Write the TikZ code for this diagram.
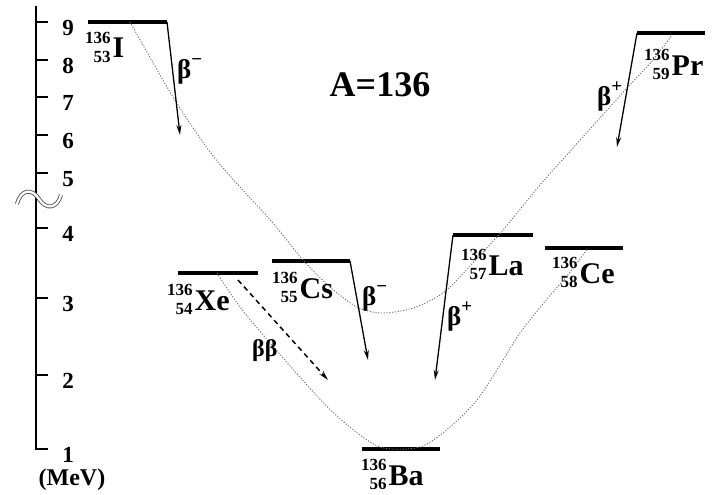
\documentclass[tikz,border=0pt]{standalone}
\usepackage{fontspec}
\setmainfont{Liberation Serif}
\usetikzlibrary{arrows.meta}
\newcommand{\nuc}[3]{\raisebox{4pt}{\fontsize{17}{19}\selectfont\begin{tabular}{@{}r@{}}#1\\#2\end{tabular}}\kern2pt#3}
\newcommand{\bsign}[1]{\raisebox{13pt}{\fontsize{19}{19}\selectfont#1}}

\begin{document}
\begin{tikzpicture}[x=1pt,y=-1pt,>={Stealth[length=10pt,width=5pt]},
  lvl/.style={line width=3.5pt},
  decay/.style={->,line width=1.3pt},
  bbdecay/.style={->,line width=1.5pt,dash pattern=on 5pt off 4pt},
  parab/.style={black!55,line width=0.9pt,dash pattern=on 1.2pt off 1.6pt},
  nucl/.style={anchor=base west,inner sep=0pt,font=\fontsize{30}{30}\selectfont\bfseries},
  blab/.style={anchor=base west,inner sep=0pt,font=\fontsize{27}{28}\selectfont\bfseries},
  axnum/.style={inner sep=0pt,font=\fontsize{23}{26}\selectfont\bfseries}]
\useasboundingbox (0,0) rectangle (715,495);

% energy axis
\draw[line width=2pt] (36,6) -- (36,449) -- (48,449);
\foreach \v/\y in {9/22,8/60,7/97,6/135,5/173,4/228,3/298,2/375,1/449}{
  \draw[line width=2pt] (36,\y) -- (48,\y);
  \node[axnum] (n\v) at (68,\y+6) {\v};
}
\node[axnum,font=\fontsize{24}{26}\selectfont\bfseries] (unit) at (72,480) {(MeV)};
\draw[black!65,line width=0.9pt,double=white,double distance=2.2pt]
  (17,204) .. controls (21,189) and (32,188) .. (39,199) .. controls (46,210) and (57,209) .. (61,195);

\node[font=\fontsize{36}{40}\selectfont\bfseries] (mass) at (380,85) {A=136};

% levels
\coordinate (I1) at (88,22);   \coordinate (I2) at (167,22);
\coordinate (Xe1) at (178,273); \coordinate (Xe2) at (258,273);
\coordinate (Cs1) at (272,261); \coordinate (Cs2) at (350,261);
\coordinate (Ba1) at (362,449); \coordinate (Ba2) at (440,449);
\coordinate (La1) at (453,235); \coordinate (La2) at (533,235);
\coordinate (Ce1) at (545,248); \coordinate (Ce2) at (623,248);
\coordinate (Pr1) at (637,33);  \coordinate (Pr2) at (705,33);
\foreach \n in {I,Xe,Cs,Ba,La,Ce,Pr}
  \draw[lvl] (\n1) -- (\n2);

\node[nucl] (I) at (85,58) {\nuc{136}{53}{I}};
\node[nucl] (Xe) at (167,310) {\nuc{136}{54}{Xe}};
\node[nucl] (Cs) at (272,298) {\nuc{136}{55}{Cs}};
\node[nucl] (Ba) at (361,485) {\nuc{136}{56}{Ba}};
\node[nucl] (La) at (461,275) {\nuc{136}{57}{La}};
\node[nucl] (Ce) at (552,283) {\nuc{136}{58}{Ce}};
\node[nucl] (Pr) at (644,75) {\nuc{136}{59}{Pr}};

% parabolas
\draw[parab] plot[smooth] coordinates {(130,22) (173,97) (210,152) (240,187) (273,223) (303,260)
  (330,287) (357,307) (382,313) (413,308) (443,293) (470,266) (503,230) (540,185) (573,148)
  (627,88) (653,60) (672,35)};
\draw[parab] plot[smooth] coordinates {(217,273) (240,307) (270,343) (317,396) (345,423)
  (380,447) (420,447) (450,427) (477,400) (500,365) (520,333) (547,299) (567,276) (588,248)};

% decays
\coordinate (Ie) at (180,135);
\coordinate (Cse) at (368,360);
\coordinate (Lae) at (435,380);
\coordinate (Pre) at (617,147);
\coordinate (Xes) at (238,280);
\coordinate (Xee) at (328,380);
\draw[decay] (I2) -- (Ie);
\draw[decay] (Cs2) -- (Cse);
\draw[decay] (La1) -- (Lae);
\draw[decay] (Pr1) -- (Pre);
\draw[bbdecay] (Xes) -- (Xee);

\node[blab] (bI) at (177,78) {β\bsign{−}};
\node[blab] (bCs) at (362,305) {β\bsign{−}};
\node[blab] (bLa) at (447,325) {β\bsign{+}};
\node[blab] (bPr) at (597,105) {β\bsign{+}};
\node[blab,font=\fontsize{24}{26}\selectfont\bfseries] (bXe) at (252,356) {ββ};
\end{tikzpicture}
\end{document}
